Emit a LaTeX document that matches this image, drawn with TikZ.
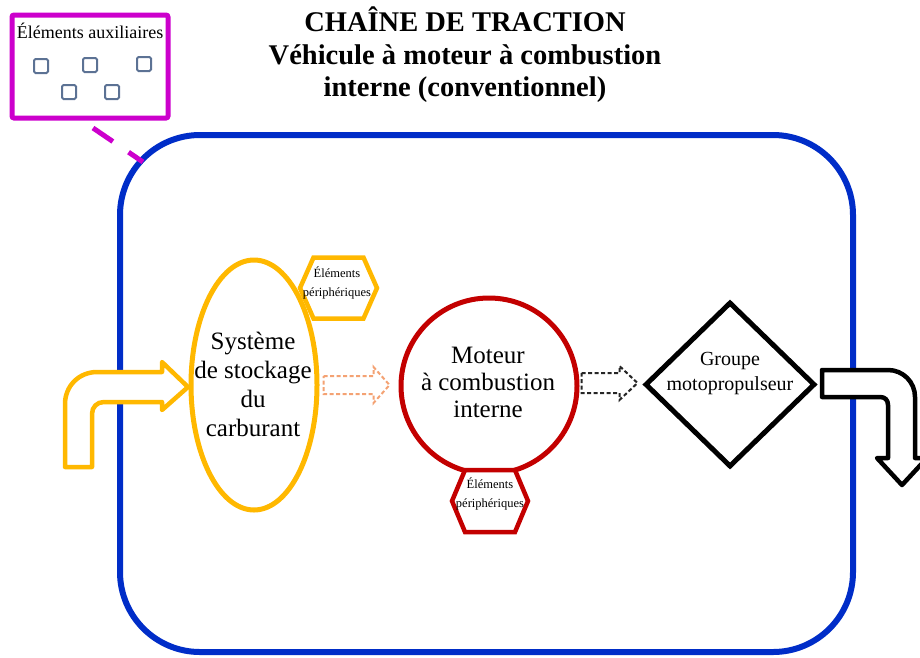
\documentclass[tikz,border=0pt]{standalone}
\usepackage{fontspec}
\setmainfont{Liberation Serif}
\usetikzlibrary{calc,shapes.geometric}

\definecolor{auxmagenta}{RGB}{204,0,204}
\definecolor{frameblue}{RGB}{0,45,200}
\definecolor{fuelyellow}{RGB}{255,184,0}
\definecolor{icered}{RGB}{195,0,0}
\definecolor{flowpeach}{RGB}{244,162,115}
\definecolor{boxgrey}{RGB}{92,114,148}

\tikzset{
  frame/.style={draw=frameblue, line width=6pt, rounded corners=80pt, minimum width=733pt, minimum height=517pt, inner sep=0pt},
  auxbox/.style={draw=auxmagenta, line width=5pt, rounded corners=2pt, minimum width=156pt, minimum height=103pt, inner sep=0pt},
  auxdash/.style={draw=auxmagenta, line width=5pt, dash pattern=on 24pt off 19pt},
  smallbox/.style={draw=boxgrey, line width=2pt, rounded corners=1.5pt, minimum size=14pt, inner sep=0pt},
  periedge/.style={line width=4.5pt, fill=white, line join=miter},
  perilabel/.style={align=center, inner sep=0pt, font=\fontsize{12.5}{18.5}\selectfont},
  bigarrow/.style={line width=4.5pt, fill=white, line join=round},
  dashflow/.style={line width=2pt, dash pattern=on 4pt off 2.5pt, fill=white}
}

\begin{document}
\begin{tikzpicture}[x=1pt, y=-1pt]
\useasboundingbox (0,0) rectangle (920,657);
\def\headlen{16}
\node[align=center, font=\fontsize{28.5}{32.5}\selectfont\bfseries] (title) at (465,55) {CHAÎNE DE TRACTION\\Véhicule à moteur à combustion\\interne (conventionnel)};
% cadre du vehicule
\node[frame] (frame) at (486.5,393.5) {};
\coordinate (auxfoot) at (93,128);
\coordinate (framecorner) at (143,162);
\draw[auxdash] (auxfoot) -- (framecorner);
% elements auxiliaires
\node[auxbox] (aux) at (90,66.5) {};
\node[font=\fontsize{18}{20}\selectfont, inner sep=0pt] (auxtitle) at (90,31) {Éléments auxiliaires};
\node[smallbox] (sqa) at (41,66) {};
\node[smallbox] (sqb) at (90,65) {};
\node[smallbox] (sqc) at (144,64) {};
\node[smallbox] (sqd) at (69,92) {};
\node[smallbox] (sqe) at (112,92) {};
% stockage
\node[ellipse, draw=fuelyellow, line width=5pt, minimum width=126pt, minimum height=250pt, inner sep=0pt] (stock) at (254,385) {};
\node[align=center, font=\fontsize{25}{29}\selectfont] (stocktext) at (253,384) {Système\\de stockage\\du\\carburant};
\coordinate (perifuelc) at (338.5,288);
\draw[periedge, draw=fuelyellow] (perifuelc) +(-38.5,0) -- +(-25,-30.5) -- +(25,-30.5) -- +(38.5,0) -- +(25,30.5) -- +(-25,30.5) -- cycle;
\node[perilabel] (perifuel) at (337,283) {Éléments\\périphériques};
% moteur
\node[circle, draw=icered, line width=5pt, minimum size=176pt, inner sep=0pt] (ice) at (489,386) {};
\node[align=center, font=\fontsize{25}{27}\selectfont] (icetext) at (488,382) {Moteur\\à combustion\\interne};
\coordinate (periicec) at (490,501);
\draw[periedge, draw=icered] (periicec) +(-38,0) -- +(-25,-31) -- +(25,-31) -- +(38,0) -- +(25,31) -- +(-25,31) -- cycle;
\node[perilabel] (perice) at (490,494) {Éléments\\périphériques};
% groupe motopropulseur
\node[diamond, draw=black, line width=5pt, minimum width=170pt, minimum height=165pt, inner sep=0pt] (prop) at (730,384.5) {};
\node[align=center, font=\fontsize{20}{25}\selectfont] (proptext) at (730,373) {Groupe\\motopropulseur};
% flux
\coordinate (flowa) at ($(stock.east)+(4,0)$);
\coordinate (flowb) at ($(ice.west |- stock.east)+(-9,0)$);
\draw[dashflow, draw=flowpeach] ($(flowa)+(0,-9)$) -- ($(flowb)+(-\headlen,-9)$) -- ($(flowb)+(-\headlen,-18)$) -- (flowb) -- ($(flowb)+(-\headlen,18)$) -- ($(flowb)+(-\headlen,9)$) -- ($(flowa)+(0,9)$) -- cycle;
\coordinate (flowc) at ($(ice.east |- prop.west)+(2,-1.5)$);
\coordinate (flowd) at ($(prop.west)+(-5,-1.5)$);
\draw[dashflow, draw=black!85] ($(flowc)+(0,-10)$) -- ($(flowd)+(-18,-10)$) -- ($(flowd)+(-18,-17)$) -- (flowd) -- ($(flowd)+(-18,17)$) -- ($(flowd)+(-18,10)$) -- ($(flowc)+(0,10)$) -- cycle;
% entree et sortie
\draw[bigarrow, draw=fuelyellow] (65,467) -- (65,404) .. controls (65,386) and (79,372) .. (97,372) -- (162,372) -- (162,362) -- (188,387) -- (162,410) -- (162,402) -- (104,402) .. controls (97,402) and (92,407) .. (92,414) -- (92,467) -- cycle;
\draw[bigarrow, draw=black] (822,370) -- (888,370) .. controls (903,370) and (915,382) .. (915,397) -- (915,458) -- (927,458) -- (902,485) -- (877,458) -- (888,458) -- (888,405) .. controls (888,400) and (885,397) .. (880,397) -- (822,397) -- cycle;
\end{tikzpicture}
\end{document}
